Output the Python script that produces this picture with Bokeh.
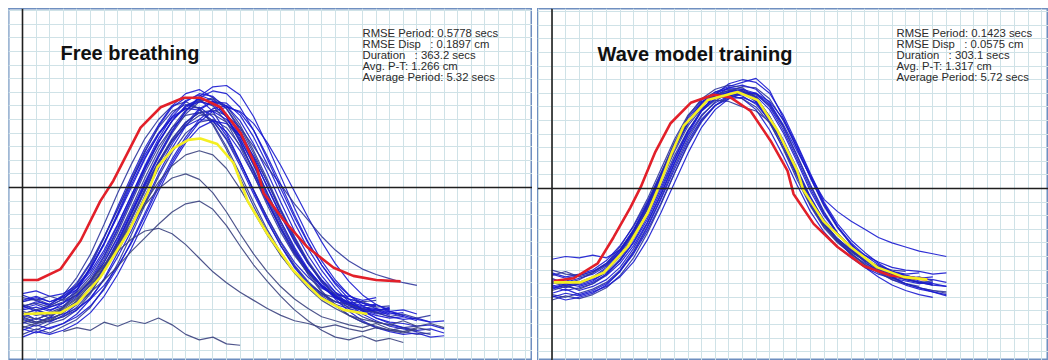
from bokeh.plotting import figure
from bokeh.models import Range1d, Span, Label, SingleIntervalTicker, Spacer
from bokeh.layouts import row, column
from bokeh.embed import file_html
from bokeh.resources import INLINE

STEP = 0.25  # seconds between samples of a blue trace
NB = "\u00a0"

# ---------------- Free breathing (left) ----------------
free_title = "Free breathing"
free_stats = ["RMSE Period: 0.5778 secs", "RMSE Disp" + NB * 3 + ": 0.1897 cm",
              "Duration" + NB * 2 + " : 363.2 secs", "Avg. P-T: 1.266 cm",
              "Average Period: 5.32 secs"]
free_red_t = [0.0, 0.28, 0.70, 1.07, 1.43, 1.67, 2.17, 2.54, 2.96, 3.27, 3.64, 4.01,
              4.32, 4.43, 4.80, 5.24, 5.72, 6.08, 6.50, 6.95]
free_red_d = [-0.68, -0.68, -0.60, -0.39, -0.10, 0.05, 0.44, 0.59, 0.66, 0.66, 0.59, 0.40,
              0.13, -0.04, -0.24, -0.44, -0.59, -0.65, -0.68, -0.69]
free_yel_t = [0.02, 0.70, 1.01, 1.43, 1.93, 2.30, 2.48, 2.78, 3.05, 3.27, 3.58, 3.88,
              4.14, 4.50, 4.98, 5.48, 5.90, 6.34]
free_yel_d = [-0.93, -0.92, -0.85, -0.66, -0.34, -0.04, 0.15, 0.29, 0.35, 0.36, 0.32, 0.18,
              -0.10, -0.34, -0.61, -0.81, -0.90, -0.93]
free_traces = [
    [-0.84,-0.82,-0.86,-0.79,-0.66,-0.49,-0.27,-0.04,0.17,0.36,0.50,0.60,0.63,0.58,0.46,0.28,0.07,-0.14,-0.33,-0.50,-0.62,-0.71,-0.78,-0.81,-0.85,-0.84,-0.88,-0.87],
    [-0.95,-0.92,-0.96,-0.88,-0.76,-0.58,-0.37,-0.14,0.08,0.29,0.46,0.60,0.69,0.72,0.66,0.52,0.33,0.11,-0.10,-0.30,-0.48,-0.62,-0.73,-0.81,-0.86,-0.90,-0.89,-0.93,-0.92],
    [-0.88,-0.84,-0.86,-0.80,-0.70,-0.55,-0.36,-0.16,0.05,0.24,0.40,0.52,0.58,0.57,0.49,0.35,0.16,-0.05,-0.25,-0.43,-0.58,-0.70,-0.78,-0.84,-0.86,-0.89,-0.91,-0.88],
    [-1.02,-1.05,-1.00,-0.97,-0.90,-0.78,-0.61,-0.41,-0.20,0.02,0.22,0.40,0.54,0.63,0.66,0.60,0.46,0.27,0.06,-0.16,-0.36,-0.54,-0.68,-0.80,-0.89,-0.95,-0.99,-1.01,-1.03,-1.02],
    [-0.78,-0.76,-0.80,-0.78,-0.72,-0.60,-0.42,-0.20,0.02,0.22,0.39,0.51,0.58,0.59,0.52,0.38,0.19,-0.02,-0.22,-0.40,-0.55,-0.66,-0.74,-0.79,-0.80,-0.83,-0.81],
    [-0.92,-0.97,-0.93,-0.90,-0.84,-0.74,-0.59,-0.40,-0.19,0.03,0.23,0.41,0.56,0.67,0.74,0.75,0.68,0.52,0.31,0.08,-0.15,-0.36,-0.54,-0.68,-0.79,-0.87,-0.92,-0.95,-0.97,-0.96,-0.99],
    [-0.87,-0.85,-0.88,-0.84,-0.79,-0.69,-0.53,-0.33,-0.11,0.11,0.30,0.44,0.53,0.55,0.49,0.36,0.18,-0.02,-0.22,-0.41,-0.57,-0.69,-0.78,-0.84,-0.88,-0.90,-0.91,-0.89],
    [-1.00,-0.96,-0.99,-0.94,-0.86,-0.74,-0.58,-0.39,-0.19,0.01,0.19,0.34,0.45,0.50,0.49,0.41,0.27,0.09,-0.11,-0.30,-0.47,-0.61,-0.72,-0.80,-0.86,-0.91,-0.94,-0.96,-0.95,-0.98],
    [-0.79,-0.83,-0.87,-0.82,-0.73,-0.59,-0.41,-0.21,0.00,0.21,0.39,0.54,0.64,0.68,0.64,0.52,0.34,0.12,-0.10,-0.31,-0.49,-0.63,-0.73,-0.80,-0.84,-0.87,-0.86,-0.90],
    [-1.08,-1.04,-1.07,-1.02,-0.97,-0.88,-0.74,-0.56,-0.35,-0.13,0.08,0.26,0.40,0.48,0.50,0.44,0.31,0.13,-0.08,-0.29,-0.48,-0.64,-0.77,-0.87,-0.94,-0.99,-1.03,-1.05,-1.06,-1.08,-1.07],
    [-0.90,-0.88,-0.91,-0.85,-0.75,-0.60,-0.41,-0.19,0.04,0.26,0.45,0.59,0.66,0.65,0.56,0.40,0.19,-0.03,-0.24,-0.43,-0.59,-0.71,-0.80,-0.86,-0.89,-0.92,-0.90,-0.94],
    [-0.97,-1.00,-0.98,-0.95,-0.90,-0.81,-0.68,-0.51,-0.32,-0.11,0.10,0.29,0.45,0.57,0.63,0.62,0.53,0.37,0.17,-0.05,-0.26,-0.45,-0.61,-0.74,-0.84,-0.91,-0.96,-0.99,-1.00,-1.02,-1.01,-1.04],
    [-0.81,-0.83,-0.80,-0.83,-0.77,-0.66,-0.50,-0.30,-0.08,0.14,0.33,0.49,0.60,0.64,0.60,0.48,0.30,0.09,-0.13,-0.33,-0.50,-0.63,-0.72,-0.78,-0.82,-0.84,-0.83],
    [-0.93,-0.90,-0.94,-0.91,-0.85,-0.75,-0.61,-0.43,-0.23,-0.02,0.18,0.35,0.48,0.55,0.56,0.50,0.38,0.21,0.01,-0.20,-0.39,-0.56,-0.69,-0.79,-0.85,-0.89,-0.92,-0.91,-0.94],
    [-1.05,-1.01,-1.04,-1.00,-0.93,-0.82,-0.67,-0.48,-0.27,-0.06,0.14,0.32,0.47,0.58,0.63,0.60,0.49,0.32,0.11,-0.11,-0.32,-0.50,-0.65,-0.77,-0.86,-0.93,-0.98,-1.02,-1.04,-1.06],
    [-0.86,-0.90,-0.87,-0.82,-0.71,-0.56,-0.37,-0.16,0.06,0.27,0.44,0.56,0.61,0.58,0.47,0.30,0.10,-0.11,-0.31,-0.48,-0.62,-0.72,-0.79,-0.84,-0.86,-0.89,-0.87],
    [-0.95,-0.99,-0.96,-0.93,-0.89,-0.82,-0.72,-0.58,-0.41,-0.21,0.00,0.19,0.35,0.48,0.56,0.59,0.56,0.47,0.33,0.16,-0.03,-0.22,-0.40,-0.56,-0.69,-0.79,-0.86,-0.91,-0.94,-0.97,-0.99,-0.98],
    [-0.89,-0.86,-0.90,-0.87,-0.80,-0.68,-0.51,-0.31,-0.09,0.13,0.33,0.49,0.60,0.65,0.63,0.54,0.38,0.18,-0.04,-0.25,-0.44,-0.60,-0.72,-0.81,-0.87,-0.90,-0.93,-0.92,-0.95],
    [-0.93,-0.90,-0.93,-0.90,-0.84,-0.74,-0.60,-0.42,-0.22,-0.01,0.19,0.36,0.48,0.55,0.57,0.53,0.44,0.30,0.15,0.02,-0.12,-0.24,-0.36,-0.46,-0.54,-0.60,-0.64,-0.67,-0.70,-0.72],
    [-0.83,-0.80,-0.84,-0.81,-0.75,-0.64,-0.48,-0.28,-0.06,0.16,0.36,0.52,0.63,0.69,0.67,0.58,0.42,0.22,0.00,-0.21,-0.40,-0.56,-0.68,-0.77,-0.82,-0.85,-0.87],
    [-1.10,-1.06,-1.08,-1.05,-1.00,-0.92,-0.80,-0.64,-0.45,-0.24,-0.03,0.17,0.33,0.44,0.49,0.47,0.38,0.23,0.04,-0.17,-0.37,-0.55,-0.70,-0.82,-0.91,-0.98,-1.03,-1.06,-1.08,-1.07,-1.10,-1.09],
    [-0.91,-0.94,-0.92,-0.88,-0.81,-0.70,-0.55,-0.36,-0.15,0.07,0.27,0.44,0.57,0.64,0.65,0.58,0.44,0.25,0.04,-0.18,-0.38,-0.55,-0.69,-0.79,-0.86,-0.90,-0.92,-0.95,-0.93,-0.96,-0.94],
    [-1.04,-1.07,-1.03,-1.00,-0.95,-0.87,-0.75,-0.59,-0.40,-0.19,0.02,0.21,0.37,0.50,0.58,0.60,0.55,0.42,0.23,0.02,-0.20,-0.40,-0.57,-0.71,-0.82,-0.90,-0.96,-1.00,-1.03,-1.05,-1.04,-1.07],
    [-0.87,-0.91,-0.88,-0.85,-0.79,-0.69,-0.55,-0.37,-0.17,0.04,0.24,0.42,0.56,0.66,0.71,0.69,0.59,0.42,0.21,-0.01,-0.22,-0.41,-0.57,-0.70,-0.79,-0.85,-0.89,-0.91,-0.90,-0.93],
    [-0.99,-1.02,-0.98,-0.95,-0.88,-0.77,-0.62,-0.44,-0.24,-0.03,0.17,0.34,0.46,0.53,0.54,0.48,0.35,0.17,-0.04,-0.25,-0.45,-0.62,-0.76,-0.86,-0.94,-0.99,-1.02,-1.05,-1.03,-1.06,-1.08],
    [-0.84,-0.81,-0.84,-0.80,-0.73,-0.62,-0.46,-0.27,-0.06,0.15,0.34,0.49,0.59,0.63,0.61,0.52,0.36,0.16,-0.06,-0.27,-0.46,-0.61,-0.72,-0.80,-0.85,-0.88,-0.90,-0.89],
]
free_outliers = [
    [-0.98,-1.00,-0.95,-0.88,-0.78,-0.68,-0.57,-0.47,-0.38,-0.32,-0.30,-0.34,-0.42,-0.52,-0.62,-0.70,-0.77,-0.83,-0.89,-0.94,-0.98,-1.00,-1.03,-1.01,-1.04,-1.06,-1.03,-1.05,-1.07,-1.04],
    [None,None,None,-1.06,-1.03,-1.05,-0.99,-1.02,-0.98,-1.00,-0.96,-1.01,-1.08,-1.12,-1.10,-1.15,-1.16],
    [-0.96,-0.99,-0.97,-0.92,-0.85,-0.77,-0.68,-0.58,-0.47,-0.37,-0.27,-0.18,-0.12,-0.10,-0.16,-0.28,-0.43,-0.57,-0.69,-0.80,-0.90,-0.98,-1.05,-1.10,-1.12,-1.09,-1.13,-1.11,-1.14],
    [-1.03,-1.00,-0.98,-0.92,-0.83,-0.71,-0.57,-0.42,-0.27,-0.13,-0.01,0.07,0.10,0.06,-0.04,-0.18,-0.34,-0.49,-0.62,-0.73,-0.82,-0.89,-0.95,-0.98,-1.01,-1.03,-1.00,-1.04,-1.06,-1.03,-1.05],
    [-0.94,-0.97,-0.93,-0.89,-0.82,-0.72,-0.59,-0.44,-0.28,-0.11,0.04,0.16,0.24,0.27,0.24,0.14,-0.01,-0.18,-0.35,-0.50,-0.63,-0.74,-0.83,-0.89,-0.94,-0.97,-0.99,-1.01,-0.98,-1.02,-1.00,-1.03],
]

# ---------------- Wave model training (right) ----------------
wave_title = "Wave model training"
wave_stats = ["RMSE Period: 0.1423 secs", "RMSE Disp" + NB * 3 + ": 0.0575 cm",
              "Duration" + NB * 2 + " : 303.1 secs", "Avg. P-T: 1.317 cm",
              "Average Period: 5.72 secs"]
wave_red_t = [0.03, 0.40, 0.84, 1.13, 1.44, 1.63, 1.90, 2.18, 2.55, 2.97, 3.28, 3.65, 4.02,
              4.33, 4.44, 4.81, 5.25, 5.73, 6.22, 6.90]
wave_red_d = [-0.68, -0.66, -0.55, -0.36, -0.14, 0.01, 0.27, 0.48, 0.63, 0.69, 0.67, 0.57, 0.35,
              0.13, -0.04, -0.26, -0.43, -0.57, -0.64, -0.67]
wave_yel_t = [0.03, 0.52, 0.95, 1.39, 1.76, 1.96, 2.20, 2.42, 2.86, 3.41, 3.78, 4.14, 4.51,
              4.62, 4.99, 5.49, 5.98, 6.46, 6.90]
wave_yel_d = [-0.69, -0.69, -0.62, -0.43, -0.18, 0.01, 0.26, 0.46, 0.65, 0.71, 0.65, 0.43, 0.13,
              -0.01, -0.24, -0.43, -0.58, -0.65, -0.67]
wave_traces = [
    [-0.66,-0.70,-0.67,-0.62,-0.55,-0.43,-0.27,-0.08,0.14,0.36,0.54,0.65,0.71,0.73,0.72,0.64,0.49,0.29,0.07,-0.13,-0.29,-0.40,-0.48,-0.55,-0.60,-0.63,-0.66,-0.65,-0.68],
    [-0.74,-0.71,-0.75,-0.72,-0.67,-0.58,-0.44,-0.26,-0.05,0.18,0.39,0.54,0.63,0.68,0.70,0.68,0.58,0.41,0.20,-0.02,-0.20,-0.33,-0.43,-0.51,-0.58,-0.63,-0.66,-0.69,-0.70,-0.72],
    [-0.62,-0.65,-0.63,-0.60,-0.53,-0.42,-0.28,-0.10,0.11,0.32,0.50,0.63,0.70,0.74,0.73,0.67,0.53,0.34,0.12,-0.09,-0.26,-0.37,-0.45,-0.52,-0.57,-0.61,-0.63,-0.62],
    [-0.78,-0.80,-0.77,-0.74,-0.69,-0.60,-0.46,-0.28,-0.07,0.16,0.37,0.53,0.64,0.71,0.75,0.74,0.66,0.50,0.30,0.08,-0.13,-0.29,-0.41,-0.51,-0.59,-0.65,-0.70,-0.73,-0.75,-0.76],
    [-0.70,-0.67,-0.71,-0.68,-0.61,-0.50,-0.34,-0.15,0.07,0.29,0.48,0.61,0.68,0.69,0.66,0.58,0.43,0.24,0.03,-0.17,-0.32,-0.43,-0.51,-0.58,-0.63,-0.66,-0.68,-0.70,-0.69],
    [-0.72,-0.75,-0.73,-0.70,-0.64,-0.55,-0.42,-0.25,-0.04,0.19,0.40,0.57,0.69,0.77,0.80,0.78,0.70,0.54,0.33,0.11,-0.10,-0.26,-0.38,-0.47,-0.55,-0.61,-0.65,-0.68,-0.71],
    [-0.60,-0.63,-0.64,-0.61,-0.56,-0.47,-0.33,-0.16,0.05,0.27,0.46,0.59,0.66,0.68,0.66,0.60,0.48,0.30,0.09,-0.12,-0.28,-0.39,-0.47,-0.53,-0.57,-0.60,-0.61],
    [-0.77,-0.74,-0.78,-0.75,-0.70,-0.61,-0.48,-0.31,-0.11,0.11,0.32,0.49,0.61,0.68,0.71,0.70,0.62,0.46,0.25,0.03,-0.17,-0.33,-0.45,-0.54,-0.61,-0.67,-0.71,-0.74,-0.76,-0.78],
    [-0.67,-0.69,-0.66,-0.63,-0.57,-0.46,-0.31,-0.12,0.10,0.33,0.52,0.64,0.69,0.70,0.68,0.62,0.50,0.32,0.10,-0.11,-0.27,-0.38,-0.46,-0.53,-0.58,-0.61,-0.64,-0.66,-0.65],
    [-0.82,-0.79,-0.81,-0.78,-0.73,-0.64,-0.51,-0.33,-0.12,0.11,0.33,0.50,0.61,0.67,0.70,0.69,0.61,0.45,0.24,0.02,-0.18,-0.33,-0.44,-0.53,-0.60,-0.66,-0.70,-0.73,-0.75,-0.77],
    [-0.52,-0.50,-0.51,-0.49,-0.51,-0.45,-0.32,-0.14,0.07,0.29,0.48,0.61,0.68,0.71,0.70,0.64,0.51,0.32,0.11,-0.10,-0.26,-0.37,-0.46,-0.53,-0.58,-0.62,-0.64,-0.66],
    [-0.71,-0.73,-0.70,-0.67,-0.62,-0.53,-0.40,-0.23,-0.02,0.21,0.42,0.58,0.68,0.74,0.76,0.73,0.63,0.47,0.28,0.09,-0.08,-0.17,-0.24,-0.30,-0.36,-0.40,-0.43,-0.46,-0.48,-0.50],
    [-0.64,-0.61,-0.65,-0.62,-0.56,-0.45,-0.30,-0.11,0.11,0.34,0.53,0.66,0.73,0.76,0.74,0.67,0.53,0.33,0.11,-0.10,-0.27,-0.39,-0.48,-0.56,-0.61,-0.65,-0.67,-0.69,-0.68],
    [-0.79,-0.82,-0.80,-0.77,-0.71,-0.61,-0.47,-0.29,-0.08,0.14,0.35,0.51,0.61,0.66,0.67,0.63,0.53,0.36,0.15,-0.06,-0.24,-0.38,-0.49,-0.58,-0.65,-0.71,-0.75,-0.78,-0.80],
    [-0.68,-0.71,-0.69,-0.65,-0.58,-0.47,-0.31,-0.12,0.09,0.31,0.50,0.63,0.71,0.75,0.78,0.81,0.72,0.52,0.30,0.08,-0.12,-0.28,-0.40,-0.49,-0.56,-0.61,-0.64,-0.66,-0.67,-0.69],
    [-0.75,-0.72,-0.74,-0.70,-0.63,-0.52,-0.37,-0.19,0.02,0.24,0.43,0.57,0.65,0.64,0.60,0.57,0.49,0.34,0.14,-0.07,-0.25,-0.38,-0.48,-0.56,-0.62,-0.67,-0.70,-0.72],
    [-0.63,-0.66,-0.64,-0.61,-0.55,-0.45,-0.31,-0.13,0.08,0.30,0.49,0.62,0.69,0.72,0.71,0.65,0.52,0.34,0.13,-0.07,-0.23,-0.34,-0.42,-0.49,-0.54,-0.58,-0.60,-0.61,-0.63,-0.62],
    [-0.80,-0.77,-0.79,-0.76,-0.72,-0.65,-0.54,-0.38,-0.18,0.04,0.26,0.45,0.58,0.66,0.70,0.70,0.64,0.51,0.32,0.10,-0.11,-0.28,-0.41,-0.51,-0.59,-0.65,-0.70,-0.73,-0.76,-0.79],
    [-0.69,-0.72,-0.70,-0.66,-0.59,-0.48,-0.33,-0.14,0.07,0.30,0.49,0.62,0.69,0.72,0.72,0.66,0.52,0.33,0.12,-0.09,-0.26,-0.37,-0.46,-0.53,-0.59,-0.63,-0.66,-0.69,-0.71],
    [-0.73,-0.70,-0.72,-0.69,-0.63,-0.53,-0.39,-0.21,0.00,0.22,0.42,0.57,0.66,0.71,0.73,0.70,0.60,0.43,0.22,0.00,-0.19,-0.33,-0.44,-0.52,-0.58,-0.63,-0.67,-0.69,-0.71,-0.72],
]
wave_outliers = []

PX_PER_S = 54.4
PX_PER_CM = 136.0
HEIGHT = 352


def panel(width, zero_x_px, zero_y_px, title, stats, traces, outliers,
          red_t, red_d, yel_t, yel_d, title_x, title_y, stats_x):
    x_range = Range1d(-zero_x_px / PX_PER_S, (width - zero_x_px) / PX_PER_S)
    y_range = Range1d(-(HEIGHT - zero_y_px) / PX_PER_CM, zero_y_px / PX_PER_CM)
    p = figure(width=width, height=HEIGHT, x_range=x_range, y_range=y_range,
               output_backend="svg", toolbar_location=None, min_border=0,
               background_fill_color="white", border_fill_color="white",
               outline_line_color="#6f8fc0", outline_line_width=2)
    p.xaxis.visible = False
    p.yaxis.visible = False
    p.xgrid.ticker = SingleIntervalTicker(interval=0.25, num_minor_ticks=0)
    p.ygrid.ticker = SingleIntervalTicker(interval=0.1, num_minor_ticks=0)
    p.xgrid.grid_line_color = "#cfe2e7"
    p.ygrid.grid_line_color = "#cfe2e7"
    p.xgrid.grid_line_width = 1
    p.ygrid.grid_line_width = 1

    p.add_layout(Span(location=0, dimension="height", line_color="#1e1e1e", line_width=1.6))
    p.add_layout(Span(location=0, dimension="width", line_color="#1e1e1e", line_width=1.6))

    xs, ys, cols = [], [], []
    for k, tr in enumerate(traces):
        pts = [(i * STEP, v) for i, v in enumerate(tr) if v is not None]
        xs.append([a for a, _ in pts]); ys.append([b for _, b in pts])
        cols.append("#1818d0" if k % 3 else "#30369c")
    for tr in outliers:
        pts = [(i * STEP, v) for i, v in enumerate(tr) if v is not None]
        xs.append([a for a, _ in pts]); ys.append([b for _, b in pts])
        cols.append("#3c4280")
    p.multi_line(xs, ys, line_color=cols, line_width=1.2, line_alpha=0.9)

    p.line(red_t, red_d, line_color="#e2202a", line_width=2.6, line_join="round")
    p.line(yel_t, yel_d, line_color="#f4ef22", line_width=2.6, line_join="round")

    p.add_layout(Label(x=title_x, y=title_y, x_units="screen", y_units="screen",
                       text=title, text_font="Liberation Sans", text_font_style="bold",
                       text_font_size="20px", text_color="#111111",
                       text_baseline="alphabetic"))
    for i, s in enumerate(stats):
        p.add_layout(Label(x=stats_x, y=HEIGHT - 24 - 11 * i, x_units="screen", y_units="screen",
                           text=s, text_font="Liberation Sans", text_font_size="11.3px",
                           text_color="#2b2b2b", text_baseline="alphabetic"))
    return p


p1 = panel(524, 14.0, 179.0, free_title, free_stats, free_traces, free_outliers,
           free_red_t, free_red_d, free_yel_t, free_yel_d, 52, 308, 354)
p2 = panel(511, 14.5, 180.0, wave_title, wave_stats, wave_traces, wave_outliers,
           wave_red_t, wave_red_d, wave_yel_t, wave_yel_d, 60, 307, 359)

layout = column(Spacer(width=1048, height=8),
                row(Spacer(width=8, height=HEIGHT), p1, Spacer(width=5, height=HEIGHT), p2))
open("out.html", "w").write(file_html(layout, INLINE))
